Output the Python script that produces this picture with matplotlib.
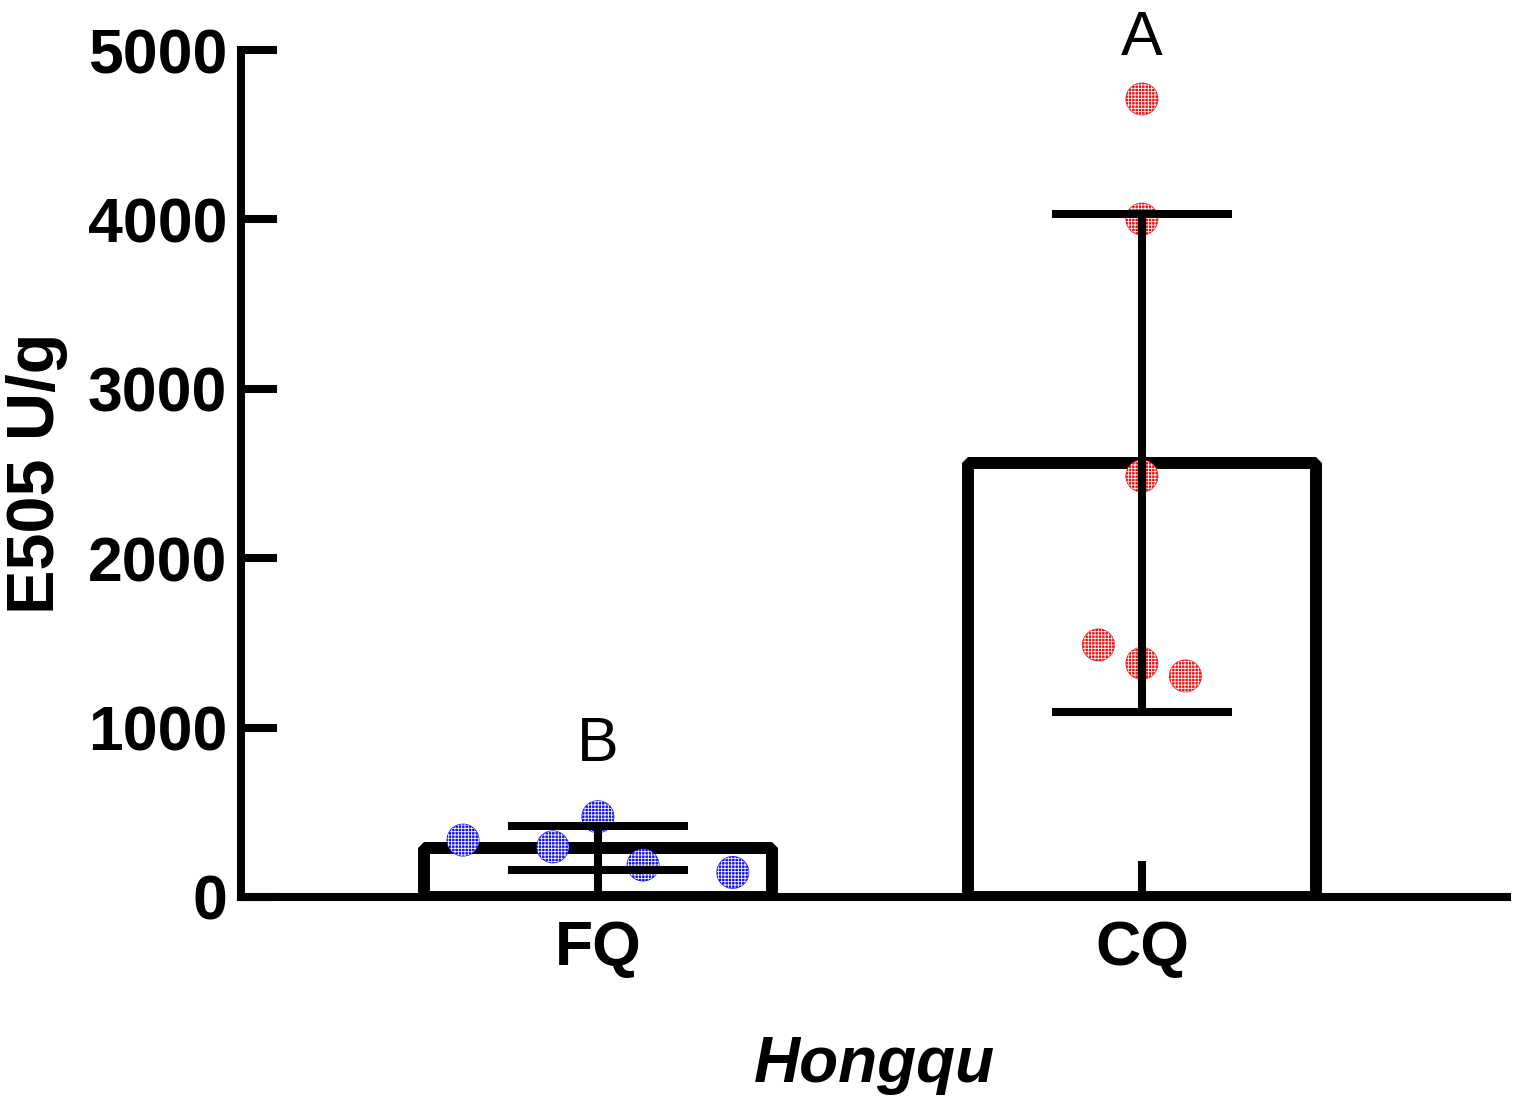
import numpy as np
import matplotlib
matplotlib.use("Agg")
import matplotlib.pyplot as plt

# ---- data ----
categories = ["FQ", "CQ"]
fq_values = [336, 296, 474, 189, 145]
cq_values = [4711, 4002, 2485, 1488, 1379, 1305]
fq_offsets = [-0.248, -0.083, 0.0, 0.083, 0.248]
cq_offsets = [0.0, 0.0, 0.0, -0.08, 0.0, 0.08]
sig_letters = ["B", "A"]
sig_letter_y = [800, 4970]
yticks = [0, 1000, 2000, 3000, 4000, 5000]
point_colors = ["#1010F0", "#F01010"]

plt.rcParams['font.family'] = ['Liberation Sans', 'DejaVu Sans']
plt.rcParams['hatch.color'] = 'white'
plt.rcParams['hatch.linewidth'] = 0.6

groups = [fq_values, cq_values]
offsets = [fq_offsets, cq_offsets]
means = [np.mean(g) for g in groups]
sds = [np.std(g, ddof=1) for g in groups]
x = np.arange(len(categories))

fig = plt.figure(figsize=(15.13, 11.04), dpi=100)
ax = fig.add_axes([0.1593, 0.1875, 0.8367, 0.7672])

lw = 8.6
ax.bar(x, means, width=0.64, facecolor='white', edgecolor='black',
       linewidth=lw, joinstyle='bevel', zorder=1)

for xi, vals, offs, col in zip(x, groups, offsets, point_colors):
    xs = xi + np.array(offs)
    ax.scatter(xs, vals, s=560, facecolor=col, edgecolor='none',
               linewidth=0, zorder=2)
    ax.scatter(xs, vals, s=520, facecolor='none', edgecolor='#FFFFFF',
               linewidth=0, hatch='+++++', zorder=2.1)

ax.errorbar(x, means, yerr=sds, fmt='none', ecolor='black', elinewidth=5.8,
            capsize=65, capthick=5.8, zorder=3)

for xi, letter, ly in zip(x, sig_letters, sig_letter_y):
    ax.text(xi, ly, letter, ha='center', va='baseline', fontsize=45,
            fontweight='normal', clip_on=False)

ax.set_xlim(-0.656, 1.671)
ax.set_ylim(0, 5000)
ax.set_xticks(x)
ax.set_xticklabels(categories, fontsize=45, fontweight='bold')
ax.set_yticks(yticks)
ax.set_yticklabels([str(t) for t in yticks], fontsize=45, fontweight='bold')

ax.tick_params(axis='both', direction='in', length=26, width=5.8, color='black')
ax.tick_params(axis='y', pad=10)
ax.tick_params(axis='x', pad=16)

for s in ['top', 'right']:
    ax.spines[s].set_visible(False)
for s in ['left', 'bottom']:
    ax.spines[s].set_linewidth(5.8)
    ax.spines[s].set_zorder(4)
    ax.spines[s].set_capstyle('projecting')

ax.set_ylabel("E505 U/g", fontsize=48, fontweight='bold')
ax.yaxis.set_label_coords(-0.137, 0.5)
ax.set_xlabel("Hongqu", fontsize=46, fontweight='bold', fontstyle='italic')
ax.xaxis.set_label_coords(0.5, -0.163)

fig.savefig("out.png", dpi=100)
